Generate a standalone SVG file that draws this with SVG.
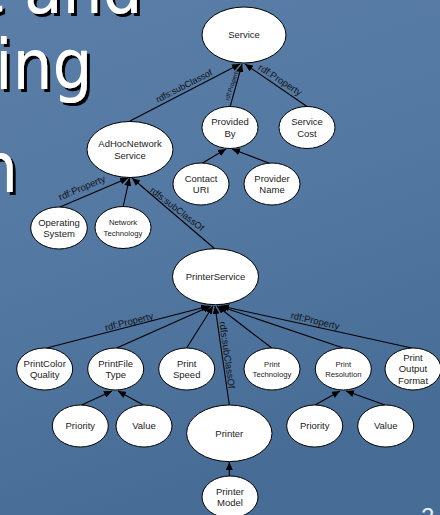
<svg xmlns="http://www.w3.org/2000/svg" width="440" height="515" viewBox="0 0 440 515">
<defs>
<linearGradient id="bg" x1="0" y1="0" x2="0.3" y2="1">
<stop offset="0" stop-color="#5a7ea8"/>
<stop offset="0.5" stop-color="#5378a2"/>
<stop offset="1" stop-color="#476c96"/>
</linearGradient>
<filter id="sh" x="-10%" y="-10%" width="130%" height="130%">
<feDropShadow dx="3" dy="3" stdDeviation="0" flood-color="#000" flood-opacity="1"/>
</filter>
<marker id="ah" markerUnits="userSpaceOnUse" markerWidth="8" markerHeight="7" refX="8" refY="3.5" orient="auto">
<path d="M0,0 L8,3.5 L0,7 z" fill="#000"/>
</marker>
<style>
.big{font-family:"DejaVu Sans Condensed","DejaVu Sans",sans-serif;font-size:70px;fill:#fff;}
.n ellipse{fill:#fff;stroke:#000;stroke-width:1;}
.n text{font-family:"Liberation Sans",Arial,sans-serif;font-size:9.5px;fill:#222;text-anchor:middle;}
.n text.s{font-size:7.7px;fill:#222;}
.c line{stroke:#000;stroke-width:1.1;marker-end:url(#ah);}
.lb{font-family:"Liberation Sans",Arial,sans-serif;font-size:9.5px;fill:#111;text-anchor:middle;}
</style>
</defs>
<rect width="440" height="515" fill="url(#bg)"/>
<g filter="url(#sh)">
<text class="big" y="13"><tspan x="-32">e</tspan><tspan x="24">and</tspan></text>
<text class="big" x="-5" y="89">ing</text>
<text class="big" x="-22" y="192">n</text>
</g>
<text x="421" y="525" font-family="Liberation Sans,Arial,sans-serif" font-size="24" fill="#e8eef5">2</text>

<g class="c" id="connectors">
<line x1="130" y1="121" x2="240" y2="64"/>
<line x1="230" y1="107" x2="242" y2="64"/>
<line x1="307.7" y1="107" x2="245" y2="64"/>
<line x1="201.7" y1="163.5" x2="226" y2="149"/>
<line x1="270" y1="163.5" x2="232" y2="149"/>
<line x1="60" y1="207" x2="128" y2="178"/>
<line x1="123.3" y1="206" x2="129.5" y2="178"/>
<line x1="215" y1="249" x2="132" y2="178"/>
<line x1="46.7" y1="348" x2="209" y2="306"/>
<line x1="116.7" y1="348" x2="211" y2="306"/>
<line x1="186.7" y1="348" x2="213" y2="306"/>
<line x1="229.3" y1="405" x2="215" y2="306"/>
<line x1="271.7" y1="348" x2="217" y2="306"/>
<line x1="343.3" y1="348" x2="219" y2="306"/>
<line x1="411.7" y1="348" x2="221" y2="306"/>
<line x1="81.7" y1="405" x2="112" y2="391"/>
<line x1="143.3" y1="405" x2="118" y2="391"/>
<line x1="315" y1="405" x2="340" y2="391"/>
<line x1="385" y1="405" x2="346" y2="391"/>
<line x1="229.3" y1="476" x2="229.3" y2="462"/>
<text class="lb" transform="translate(184,86) rotate(-27)" y="3" style="font-size:9px">rdfs:subClassof</text>
<text class="lb" transform="translate(232,85) rotate(-72)" y="2" style="font-size:6.2px">rdf:Property</text>
<text class="lb" transform="translate(280,80) rotate(33)" y="3">rdf:Property</text>
<text class="lb" transform="translate(82,188) rotate(-23)" y="3">rdf:Property</text>
<text class="lb" transform="translate(177,209) rotate(38)" y="3" style="font-size:9.2px">rdfs:subClassOf</text>
<text class="lb" transform="translate(129,322) rotate(-14)" y="3">rdf:Property</text>
<text class="lb" transform="translate(227,355) rotate(82)" y="3">rdfs:subClassOf</text>
<text class="lb" transform="translate(315,321) rotate(13)" y="3">rdf:Property</text>
</g>

<g class="n" id="service"><ellipse cx="244" cy="35" rx="42" ry="28"/><text x="244" y="38.3">Service</text></g>
<g class="n" id="providedBy"><ellipse cx="230" cy="127.5" rx="28" ry="21"/><text x="230" y="125">Provided</text><text x="230" y="136.6">By</text></g>
<g class="n" id="serviceCost"><ellipse cx="307" cy="127.5" rx="28" ry="21"/><text x="307" y="125">Service</text><text x="307" y="136.6">Cost</text></g>
<g class="n" id="contactURI"><ellipse cx="201" cy="184" rx="28" ry="21"/><text x="201" y="181.5">Contact</text><text x="201" y="193.1">URI</text></g>
<g class="n" id="providerName"><ellipse cx="272" cy="184" rx="28" ry="21"/><text x="272" y="181.5">Provider</text><text x="272" y="193.1">Name</text></g>
<g class="n" id="adHoc"><ellipse cx="130" cy="149.5" rx="43" ry="28"/><text x="130" y="147">AdHocNetwork</text><text x="130" y="158.6">Service</text></g>
<g class="n" id="operatingSystem"><ellipse cx="59" cy="228" rx="28.3" ry="21"/><text x="59" y="225.5">Operating</text><text x="59" y="237.1">System</text></g>
<g class="n" id="networkTech"><ellipse cx="123" cy="227.5" rx="28" ry="21"/><text class="s" x="123" y="225">Network</text><text class="s" x="123" y="235.5">Technology</text></g>
<g class="n" id="printerService"><ellipse cx="215.5" cy="276.7" rx="43" ry="28"/><text x="215.5" y="280">PrinterService</text></g>
<g class="n" id="printColorQuality"><ellipse cx="44.7" cy="369" rx="28" ry="21"/><text x="44.7" y="366.5">PrintColor</text><text x="44.7" y="378.1">Quality</text></g>
<g class="n" id="printFileType"><ellipse cx="115.7" cy="369" rx="28" ry="21"/><text x="115.7" y="366.5">PrintFile</text><text x="115.7" y="378.1">Type</text></g>
<g class="n" id="printSpeed"><ellipse cx="186.7" cy="369" rx="28" ry="21"/><text x="186.7" y="366.5">Print</text><text x="186.7" y="378.1">Speed</text></g>
<g class="n" id="printTechnology"><ellipse cx="272" cy="369" rx="28" ry="21"/><text class="s" x="272" y="366.5">Print</text><text class="s" x="272" y="377">Technology</text></g>
<g class="n" id="printResolution"><ellipse cx="343.3" cy="369" rx="28" ry="21"/><text class="s" x="343.3" y="366.5">Print</text><text class="s" x="343.3" y="377">Resolution</text></g>
<g class="n" id="printOutputFormat"><ellipse cx="413" cy="369" rx="28" ry="21"/><text x="413" y="361">Print</text><text x="413" y="372.3">Output</text><text x="413" y="383.6">Format</text></g>
<g class="n" id="priority1"><ellipse cx="80.3" cy="426" rx="28" ry="21"/><text x="80.3" y="429.3">Priority</text></g>
<g class="n" id="value1"><ellipse cx="144" cy="426" rx="28" ry="21"/><text x="144" y="429.3">Value</text></g>
<g class="n" id="printer"><ellipse cx="229.3" cy="433.3" rx="42.7" ry="28.3"/><text x="229.3" y="436.6">Printer</text></g>
<g class="n" id="priority2"><ellipse cx="314.7" cy="426" rx="28" ry="21"/><text x="314.7" y="429.3">Priority</text></g>
<g class="n" id="value2"><ellipse cx="385.7" cy="426" rx="28" ry="21"/><text x="385.7" y="429.3">Value</text></g>
<g class="n" id="printerModel"><ellipse cx="230" cy="497" rx="28" ry="21"/><text x="230" y="494.5">Printer</text><text x="230" y="506.1">Model</text></g>
</svg>
